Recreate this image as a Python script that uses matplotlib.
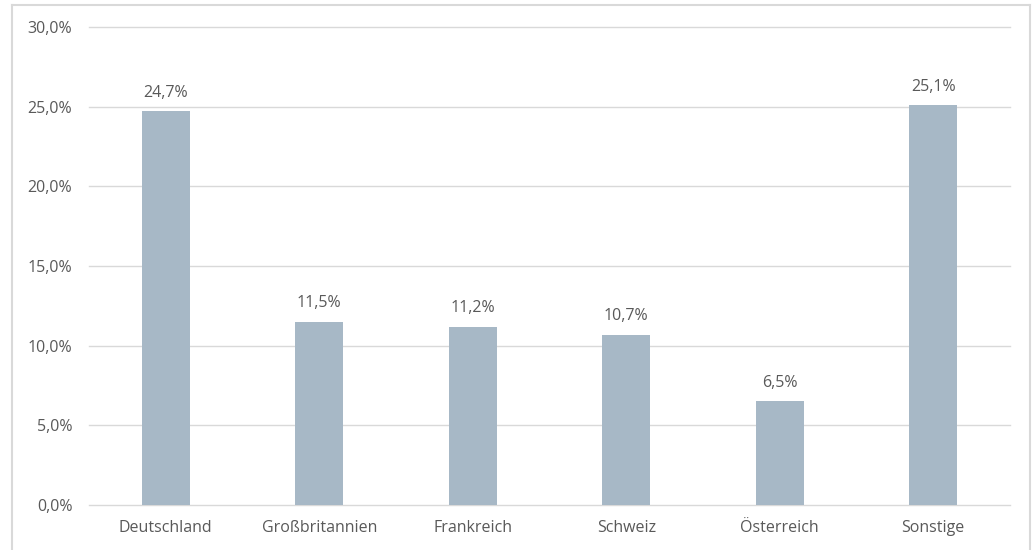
import matplotlib
matplotlib.use("Agg")
import matplotlib.pyplot as plt
from matplotlib.lines import Line2D

categories = ["Deutschland", "Großbritannien", "Frankreich", "Schweiz", "Österreich", "Sonstige"]
values = [24.7, 11.5, 11.2, 10.7, 6.5, 25.1]
yticks = [0, 5, 10, 15, 20, 25, 30]

plt.rcParams['font.family'] = ['Open Sans', 'DejaVu Sans']
txt = '#595959'
fs = 11.5

W, H = 1032, 550
fig = plt.figure(figsize=(W/100, H/100), dpi=100)
ax = fig.add_axes([89/W, 1-505/H, (1010-89)/W, (505-27)/H])

x = range(len(categories))
ax.bar(x, values, width=0.31, color='#A7B8C6', zorder=3)
ax.set_xlim(-0.5, len(categories)-0.5)
ax.set_ylim(0, 30)
ax.set_yticks(yticks)
ax.set_yticklabels([f"{v:.1f}%".replace('.', ',') for v in yticks])
ax.set_xticks(list(x))
ax.set_xticklabels(categories)
ax.tick_params(axis='both', length=0, colors=txt, labelsize=fs)
ax.tick_params(axis='y', pad=12)
ax.tick_params(axis='x', pad=11)
for t in yticks:
    ax.axhline(t, color='#D9D9D9', linewidth=1, zorder=0, clip_on=False)
for s in ax.spines.values():
    s.set_visible(False)
for i, v in enumerate(values):
    ax.annotate(f"{v:.1f}%".replace('.', ','), (i, v), xytext=(0, 7.5), textcoords='offset points',
                ha='center', va='bottom', color=txt, fontsize=fs)

# outer frame
fc = '#D9D9D9'
fig.add_artist(Line2D([12/W, 12/W], [0, 1-5/H], color=fc, lw=1.5, transform=fig.transFigure))
fig.add_artist(Line2D([12/W, 1030/W], [1-5/H, 1-5/H], color=fc, lw=1.5, transform=fig.transFigure))
fig.add_artist(Line2D([1030/W, 1030/W], [0, 1-5/H], color=fc, lw=1.5, transform=fig.transFigure))

fig.savefig("out.png", dpi=100)
